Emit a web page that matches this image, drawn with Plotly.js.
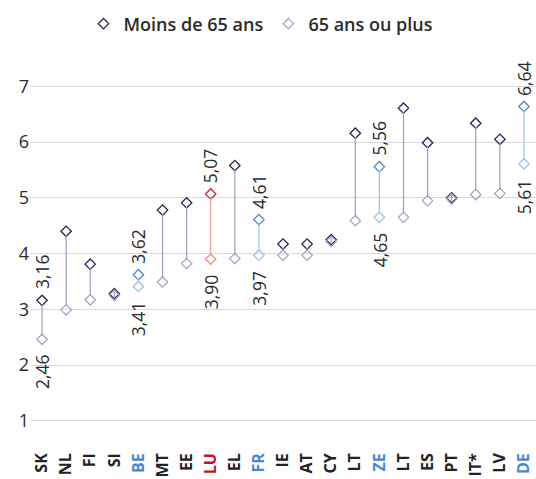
<!DOCTYPE html>
<html><head><meta charset="utf-8">
<script src="https://cdn.plot.ly/plotly-3.0.1.min.js"></script>
<style>html,body{margin:0;padding:0;background:#fff;}#chart{width:536px;height:479px;}</style>
</head><body><div id="chart"></div>
<script>
const categories = ["SK","NL","FI","SI","BE","MT","EE","LU","EL","FR","IE","AT","CY","LT","ZE","LT ","ES","PT","IT*","LV","DE"];
const under65 = [3.16,4.40,3.81,3.28,3.62,4.78,4.91,5.07,5.58,4.61,4.17,4.17,4.25,6.16,5.56,6.61,5.99,5.00,6.34,6.05,6.64];
const over65  = [2.46,2.99,3.17,3.25,3.41,3.49,3.82,3.90,3.91,3.97,3.97,3.97,4.22,4.59,4.65,4.65,4.95,4.98,5.06,5.08,5.61];
// group: 0 = normal, 1 = blue highlight, 2 = red highlight
const groups = [0,0,0,0,1,0,0,2,0,1,0,0,0,0,1,0,0,0,0,0,1];
const labelled = ["SK","BE","LU","FR","ZE","DE"];

const upperColors = ["#1c2553","#4a86d0","#d81e3c"];
const lowerColors = ["#a8a4c4","#9ec0ea","#ea8b6f"];
const lineColors  = ["#a19db9","#a3c2ea","#eca28c"];
const tickColors  = ["#222222","#4a86d0","#c8102e"];

const traces = [];
traces.push({x: categories, y: under65, mode: "markers", name: "Moins de 65 ans",
  marker: {symbol: "diamond-open", size: 8, color: groups.map(g => upperColors[g]), line: {width: 1.3}}});
traces.push({x: categories, y: over65, mode: "markers", name: "65 ans ou plus",
  marker: {symbol: "diamond-open", size: 8, color: groups.map(g => lowerColors[g]), line: {width: 1.3}}});
// connecting lines per group
[0,1,2].forEach(g => {
  const xs = [], ys = [];
  categories.forEach((c,i) => {
    if (groups[i] === g) { xs.push(c, c, null); ys.push(under65[i] - 0.07, over65[i] + 0.07, null); }
  });
  traces.push({x: xs, y: ys, mode: "lines", line: {color: lineColors[g], width: 1.2}, showlegend: false, hoverinfo: "skip", connectgaps: false});
});

const fmt = v => v.toFixed(2).replace(".", ",");
const annotations = [];
const labFont = {family: "Open Sans", size: 17.5, weight: 500, color: "#2b2b2b"};
categories.forEach((c,i) => {
  if (labelled.indexOf(c) < 0) return;
  annotations.push({x: c, y: under65[i], xref: "x", yref: "y", text: fmt(under65[i]), textangle: -90,
    showarrow: false, yanchor: "bottom", xanchor: "center", yshift: 9, font: labFont});
  annotations.push({x: c, y: over65[i], xref: "x", yref: "y", text: fmt(over65[i]), textangle: -90,
    showarrow: false, yanchor: "top", xanchor: "center", yshift: -13, font: labFont});
});

const layout = {
  width: 536, height: 479,
  margin: {l: 30, r: 0, t: 53, b: 36},
  paper_bgcolor: "#fff", plot_bgcolor: "#fff",
  font: {family: "Open Sans", color: "#2b2b2b"},
  showlegend: true,
  legend: {orientation: "h", xref: "container", yref: "container", x: 0.487, y: 0.95, xanchor: "center", yanchor: "middle",
    font: {family: "Open Sans", size: 18, weight: 600, color: "#2b2b2b"}, itemwidth: 20, tracegroupgap: 0},
  xaxis: {type: "category", categoryorder: "array", categoryarray: categories, range: [-0.5, 20.5], showgrid: false, zeroline: false, showline: false, ticks: "",
    tickangle: -90, tickmode: "array", tickvals: categories, ticklabelstandoff: 6,
    ticktext: categories.map((c,i) => '<span style="color:' + tickColors[groups[i]] + '">' + c.trim() + '</span>'),
    tickfont: {family: "Open Sans", size: 16, weight: 700, color: "#222"}, automargin: false, fixedrange: true},
  yaxis: {range: [0.6, 7.6], dtick: 1, tick0: 1, showgrid: true, gridcolor: "#dadada", gridwidth: 1, zeroline: false, showline: false,
    ticks: "", tickfont: {family: "Open Sans", size: 18, color: "#2b2b2b"}, automargin: false, fixedrange: true},
  annotations: annotations
};
Plotly.newPlot("chart", traces, layout, {displayModeBar: false, staticPlot: true});
</script></body></html>
